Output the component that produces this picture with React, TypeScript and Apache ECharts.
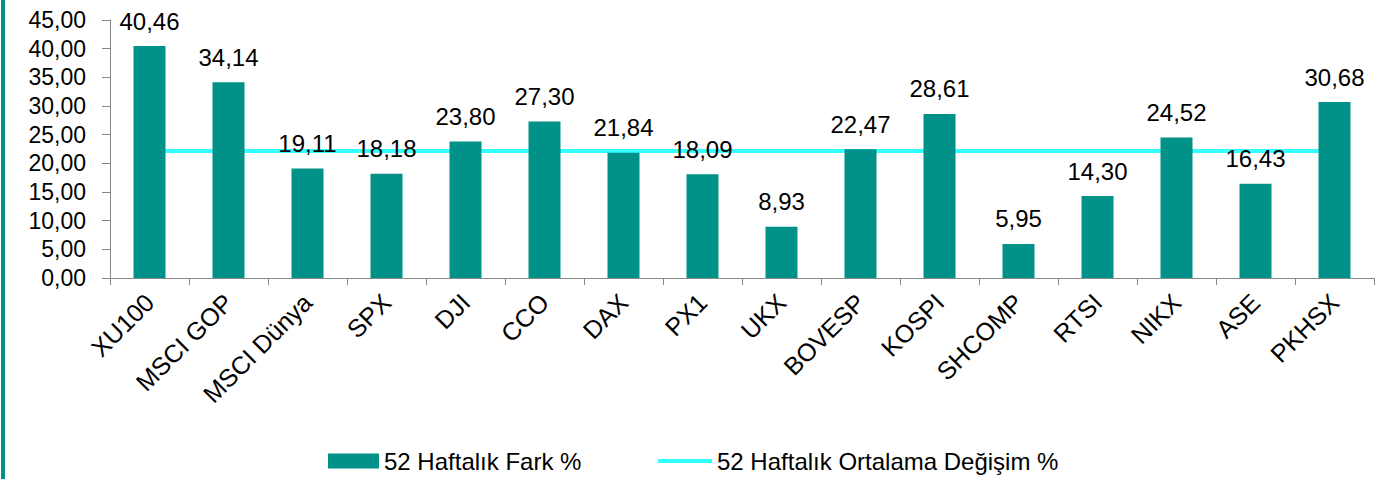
import React, { useEffect, useRef } from "react";
import * as echarts from "echarts";

const categories = ["XU100", "MSCI GOP", "MSCI Dünya", "SPX", "DJI", "CCO", "DAX", "PX1", "UKX", "BOVESP", "KOSPI", "SHCOMP", "RTSI", "NIKX", "ASE", "PKHSX"];
const farkValues = [40.46, 34.14, 19.11, 18.18, 23.8, 27.3, 21.84, 18.09, 8.93, 22.47, 28.61, 5.95, 14.3, 24.52, 16.43, 30.68];
const ortalamaValues = [22.16, 22.16, 22.16, 22.16, 22.16, 22.16, 22.16, 22.16, 22.16, 22.16, 22.16, 22.16, 22.16, 22.16, 22.16, 22.16];
const seriesNames = ["52 Haftalık Fark %", "52 Haftalık Ortalama Değişim %"];

const fmt = (v: number) => v.toFixed(2).replace(".", ",");

export default function App() {
  const ref = useRef<HTMLDivElement>(null);
  useEffect(() => {
    if (!ref.current) return;
    const chart = echarts.init(ref.current, undefined, { renderer: "svg" });
    const font = "'Liberation Sans', Arial, sans-serif";
    const barColor = "#009288";
    const lineColor = "#33FFFF";
    chart.setOption({
      animation: false,
      backgroundColor: "#ffffff",
      textStyle: { fontFamily: font },
      grid: { left: 110, right: 7, top: 20, bottom: 201, containLabel: false },
      graphic: [
        { type: "rect", left: 1, top: 0, shape: { width: 4, height: 479 }, style: { fill: barColor } },
      ],
      legend: [
        {
          left: 323,
          top: 444,
          itemWidth: 51,
          itemHeight: 15,
          textStyle: { fontSize: 24, color: "#000", fontFamily: font },
          data: [{ name: seriesNames[0], icon: "rect" }],
        },
        {
          left: 653,
          top: 444,
          itemWidth: 54,
          itemHeight: 4,
          textStyle: { fontSize: 24, color: "#000", fontFamily: font },
          data: [{ name: seriesNames[1], icon: "rect" }],
        },
      ],
      xAxis: {
        type: "category",
        data: categories,
        boundaryGap: true,
        axisLine: { lineStyle: { color: "#888", width: 1 } },
        axisTick: { show: true, alignWithLabel: false, length: 7, lineStyle: { color: "#888" } },
        axisLabel: { rotate: 45, fontSize: 25, color: "#000", margin: 20, interval: 0, fontFamily: font },
      },
      yAxis: {
        type: "value",
        min: 0,
        max: 45,
        interval: 5,
        splitLine: { show: false },
        axisLine: { show: true, lineStyle: { color: "#888", width: 1 } },
        axisTick: { show: true, length: 8, lineStyle: { color: "#888" } },
        axisLabel: { fontSize: 23, color: "#000", margin: 24, formatter: (v: number) => fmt(v), fontFamily: font },
      },
      series: [
        {
          name: seriesNames[0],
          type: "bar",
          data: farkValues,
          barWidth: 32,
          itemStyle: { color: barColor },
          label: { show: true, position: "top", distance: 13, fontSize: 24, color: "#000", formatter: (p: any) => fmt(p.value), fontFamily: font },
        },
        {
          name: seriesNames[1],
          type: "line",
          data: ortalamaValues,
          symbol: "none",
          lineStyle: { color: lineColor, width: 4 },
          itemStyle: { color: lineColor },
          z: 1,
        },
      ],
    });
    return () => chart.dispose();
  }, []);
  return <div ref={ref} style={{ position: "fixed", left: 0, top: 0, width: 1381, height: 479 }} />;
}
